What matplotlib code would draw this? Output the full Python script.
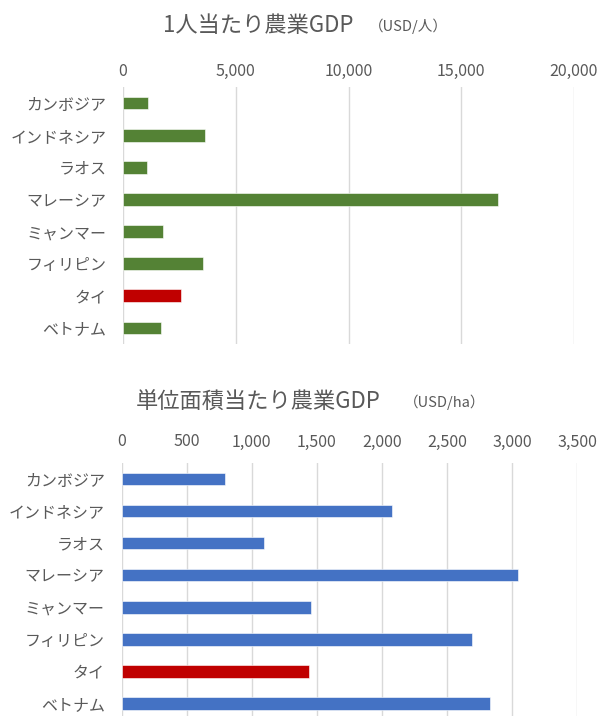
import matplotlib
matplotlib.use('Agg')

import matplotlib.pyplot as plt
from matplotlib.ticker import FuncFormatter

plt.rcParams['font.family'] = ['Noto Sans CJK JP', 'DejaVu Sans']

countries = ["カンボジア", "インドネシア", "ラオス", "マレーシア",
             "ミャンマー", "フィリピン", "タイ", "ベトナム"]
gdp_per_person = [1130, 3630, 1060, 16610, 1770, 3560, 2590, 1670]
gdp_per_area = [794, 2082, 1096, 3048, 1456, 2690, 1438, 2829]
highlight = "タイ"

TEXT = "#595959"
GRID = "#D9D9D9"
W, H = 602, 716


def px_axes(fig, left, right, top, bottom):
    return fig.add_axes([left / W, 1 - bottom / H, (right - left) / W, (bottom - top) / H])


def draw_panel(ax, values, base_color, xmax, step, ylim_bottom, xpad):
    colors = ["#C00000" if c == highlight else base_color for c in countries]
    ax.barh(range(len(countries)), values, height=0.4, color=colors,
            edgecolor="white", linewidth=0.4, zorder=3)
    ax.set_xlim(0, xmax)
    ax.set_ylim(ylim_bottom, -0.5)
    ax.set_xticks(range(0, xmax + 1, step))
    ax.xaxis.set_major_formatter(FuncFormatter(lambda v, p: f"{int(v):,}"))
    ax.xaxis.tick_top()
    ax.set_yticks(range(len(countries)))
    ax.set_yticklabels(countries)
    ax.tick_params(axis="both", length=0, colors=TEXT)
    ax.tick_params(axis="x", labelsize=11.5, pad=xpad)
    ax.tick_params(axis="y", labelsize=11.5, pad=12)
    ax.grid(axis="x", color=GRID, linewidth=1, zorder=0)
    for s in ax.spines.values():
        s.set_visible(False)


fig = plt.figure(figsize=(W / 100, H / 100), dpi=100)

# ── top panel: per person ──
ax1 = px_axes(fig, 123, 574, 87, 344)
draw_panel(ax1, gdp_per_person, "#548235", 20000, 5000, 7.5, 5)
fig.text(258 / W, 1 - 26 / H, "1人当たり農業GDP", fontsize=16, color=TEXT,
         ha="center", va="center")
fig.text(408 / W, 1 - 26 / H, "（USD/人）", fontsize=10.5, color=TEXT,
         ha="center", va="center")

# ── bottom panel: per hectare ──
ax2 = px_axes(fig, 121.5, 577, 463, 716)
draw_panel(ax2, gdp_per_area, "#4472C4", 3500, 500, 7.4, 9)
fig.text(258 / W, 1 - 402 / H, "単位面積当たり農業GDP", fontsize=16, color=TEXT,
         ha="center", va="center")
fig.text(445 / W, 1 - 402 / H, "（USD/ha）", fontsize=10.5, color=TEXT,
         ha="center", va="center")

fig.savefig("out.png", dpi=100, facecolor="white")
plt.close(fig)
